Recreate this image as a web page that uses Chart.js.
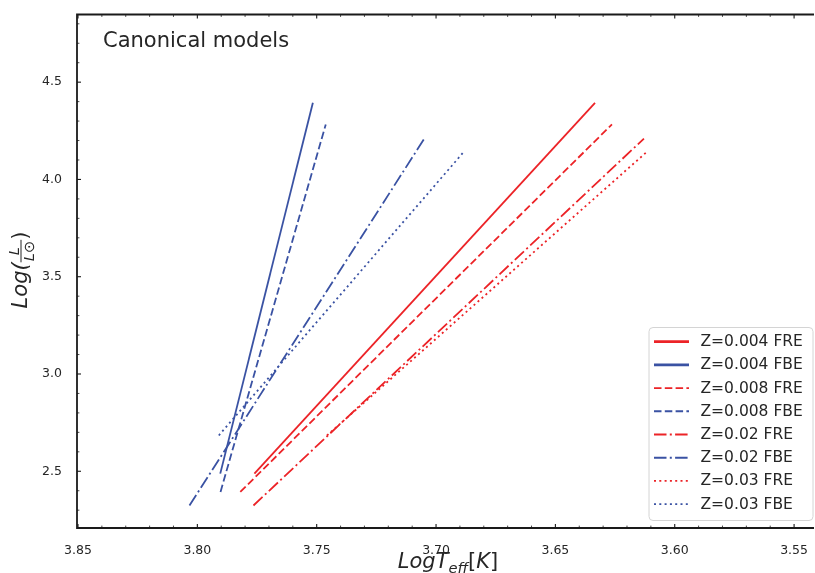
<!DOCTYPE html>
<html>
<head>
<meta charset="utf-8">
<script src="https://cdn.jsdelivr.net/npm/chart.js@4.4.1/dist/chart.umd.min.js"></script>
<style>
  html, body { margin: 0; padding: 0; background: #fff; overflow: hidden; }
  #wrap { width: 815px; height: 573px; }
</style>
</head>
<body>
<div id="wrap"><canvas id="hr" width="815" height="573"></canvas></div>
<script>
// Track endpoints: log L is shared by the FRE/FBE pair of each Z.
var lumZ004 = [2.488, 4.394];
var lumZ008 = [2.394, 4.283];
var lumZ02 = [2.324, 4.210];
var lumZ03 = [2.684, 4.147];

var teffZ004FRE = [3.7761, 3.6334];
var teffZ004FBE = [3.7904, 3.7516];
var teffZ008FRE = [3.7820, 3.6263];
var teffZ008FBE = [3.7903, 3.7462];
var teffZ02FRE = [3.7765, 3.6129];
var teffZ02FBE = [3.8033, 3.7049];
var teffZ03FRE = [3.7457, 3.6112];
var teffZ03FBE = [3.7910, 3.6880];

var seriesLabels = ['Z=0.004 FRE', 'Z=0.004 FBE', 'Z=0.008 FRE', 'Z=0.008 FBE',
                    'Z=0.02 FRE', 'Z=0.02 FBE', 'Z=0.03 FRE', 'Z=0.03 FBE'];

var xTicks = [3.85, 3.80, 3.75, 3.70, 3.65, 3.60, 3.55];
var yTicks = [2.5, 3.0, 3.5, 4.0, 4.5];

var RED = '#ec2327', BLUE = '#3a52a3', INK = '#262626';
var FONT = '"DejaVu Sans", "Liberation Sans", sans-serif';

// matplotlib-ish dash patterns in px
var DASH = { solid: [], dashed: [7.5, 3.3], dashdot: [12.5, 3.3, 2, 3.3], dotted: [2, 3.3] };

function pts(teff, lum) {
    return teff.map(function (t, i) { return { x: t, y: lum[i] }; });
}

var tracks = [
    { t: teffZ004FRE, l: lumZ004, c: RED, d: 'solid' },
    { t: teffZ004FBE, l: lumZ004, c: BLUE, d: 'solid' },
    { t: teffZ008FRE, l: lumZ008, c: RED, d: 'dashed' },
    { t: teffZ008FBE, l: lumZ008, c: BLUE, d: 'dashed' },
    { t: teffZ02FRE, l: lumZ02, c: RED, d: 'dashdot' },
    { t: teffZ02FBE, l: lumZ02, c: BLUE, d: 'dashdot' },
    { t: teffZ03FRE, l: lumZ03, c: RED, d: 'dotted' },
    { t: teffZ03FBE, l: lumZ03, c: BLUE, d: 'dotted' }
];

var datasets = tracks.map(function (s, i) {
    return {
        label: seriesLabels[i], data: pts(s.t, s.l), showLine: true,
        borderColor: s.c, backgroundColor: s.c, borderWidth: 1.8,
        borderDash: DASH[s.d], pointRadius: 0, fill: false, tension: 0
    };
});

// axes box (the right spine falls outside the crop), inward ticks, titles, annotation and legend
var decor = {
    id: 'decor',
    afterDatasetsDraw: function (chart) {
        var ctx = chart.ctx, a = chart.chartArea, xs = chart.scales.x, ys = chart.scales.y;
        ctx.save();
        ctx.strokeStyle = '#1a1a1a';

        var v, px, major, len;
        for (var k = 355; k <= 385; k++) {
            v = k / 100; px = xs.getPixelForValue(v);
            if (px < a.left - 0.5 || px > a.right + 0.5) continue;
            major = k % 5 === 0;
            ctx.lineWidth = major ? 1.1 : 0.8;
            len = major ? 4 : 2.4;
            ctx.beginPath();
            ctx.moveTo(px, a.bottom); ctx.lineTo(px, a.bottom - len);
            ctx.moveTo(px, a.top); ctx.lineTo(px, a.top + len);
            ctx.stroke();
        }
        for (var j = 22; j <= 48; j++) {
            v = j / 10; px = ys.getPixelForValue(v);
            if (px < a.top - 0.5 || px > a.bottom + 0.5) continue;
            major = j % 5 === 0;
            ctx.lineWidth = major ? 1.1 : 0.8;
            ctx.beginPath();
            ctx.moveTo(a.left, px); ctx.lineTo(a.left + (major ? 4 : 2.4), px);
            ctx.stroke();
        }

        ctx.lineWidth = 1.8;
        ctx.beginPath();
        ctx.moveTo(a.right + 2, a.top); ctx.lineTo(a.left, a.top);
        ctx.lineTo(a.left, a.bottom); ctx.lineTo(a.right + 2, a.bottom);
        ctx.stroke();

        ctx.fillStyle = INK;
        ctx.textBaseline = 'alphabetic';
        ctx.textAlign = 'left';

        ctx.font = '21px ' + FONT;
        ctx.fillText('Canonical models', 103, 47);

        // x title: LogT_eff[K]
        var big = 21, small = 14.7;
        var parts = [
            { s: 'LogT', f: 'italic ' + big + 'px ' + FONT, dy: 0 },
            { s: 'eff', f: 'italic ' + small + 'px ' + FONT, dy: 4.5 },
            { s: '[', f: big + 'px ' + FONT, dy: 0 },
            { s: 'K', f: 'italic ' + big + 'px ' + FONT, dy: 0 },
            { s: ']', f: big + 'px ' + FONT, dy: 0 }
        ];
        var total = 0;
        parts.forEach(function (p) { ctx.font = p.f; p.w = ctx.measureText(p.s).width; total += p.w; });
        var cx = 448 - total / 2;
        parts.forEach(function (p) { ctx.font = p.f; ctx.fillText(p.s, cx, 568 + p.dy); cx += p.w; });

        // y title: Log(L / L_sun), rotated
        ctx.save();
        ctx.translate(27, 270);
        ctx.rotate(-Math.PI / 2);
        ctx.font = 'italic ' + big + 'px ' + FONT;
        var w1 = ctx.measureText('Log(').width;
        ctx.font = 'italic ' + small + 'px ' + FONT;
        var wn = ctx.measureText('L').width;
        var wdL = wn;
        ctx.font = small + 'px ' + FONT;
        var wdS = ctx.measureText('\u2299').width;
        var wf = Math.max(wn, wdL + wdS) + 2;
        ctx.font = big + 'px ' + FONT;
        var w3 = ctx.measureText(')').width;
        var x0 = -(w1 + wf + w3) / 2;
        ctx.font = 'italic ' + big + 'px ' + FONT;
        ctx.fillText('Log(', x0, 0);
        var fx = x0 + w1, bar = -6;
        ctx.fillRect(fx, bar - 0.5, wf, 1);
        ctx.font = 'italic ' + small + 'px ' + FONT;
        ctx.fillText('L', fx + (wf - wn) / 2, bar - 2.5);
        var dx = fx + (wf - wdL - wdS) / 2;
        ctx.fillText('L', dx, bar + 13);
        ctx.font = small + 'px ' + FONT;
        ctx.fillText('\u2299', dx + wdL, bar + 13);
        ctx.font = big + 'px ' + FONT;
        ctx.fillText(')', fx + wf, 0);
        ctx.restore();

        // legend
        var lx = 649, ly = 327.5, lw = 164, lh = 193;
        ctx.beginPath();
        ctx.roundRect(lx, ly, lw, lh, 4);
        ctx.fillStyle = 'rgba(255,255,255,0.85)';
        ctx.fill();
        ctx.strokeStyle = '#d4d4d4';
        ctx.lineWidth = 1;
        ctx.stroke();
        ctx.font = '15.5px ' + FONT;
        ctx.textBaseline = 'middle';
        chart.data.datasets.forEach(function (ds, i) {
            var ry = 341.7 + i * 23.2;
            ctx.save();
            ctx.strokeStyle = ds.borderColor;
            ctx.lineWidth = i < 2 ? 2.8 : 1.9;
            ctx.setLineDash(ds.borderDash || []);
            ctx.beginPath();
            ctx.moveTo(654, ry); ctx.lineTo(689, ry);
            ctx.stroke();
            ctx.restore();
            ctx.fillStyle = INK;
            ctx.fillText(ds.label, 700.5, ry + 0.5);
        });
        ctx.restore();
    }
};

new Chart(document.getElementById('hr'), {
    type: 'scatter',
    data: { datasets: datasets },
    options: {
        responsive: false, animation: false, devicePixelRatio: 1,
        layout: { padding: { top: 12, right: 0, left: 0, bottom: 0 } },
        plugins: { legend: { display: false }, tooltip: { enabled: false } },
        scales: {
            x: {
                type: 'linear', reverse: true, min: 3.54249, max: 3.85042,
                grid: { display: false }, border: { display: false },
                afterBuildTicks: function (s) { s.ticks = xTicks.map(function (v) { return { value: v }; }); },
                afterFit: function (s) { s.height = 45; },
                ticks: {
                    autoSkip: false, maxRotation: 0, padding: 7, color: INK,
                    font: { family: FONT, size: 12.5 },
                    callback: function (v) { return Number(v).toFixed(2); }
                }
            },
            y: {
                type: 'linear', min: 2.2084, max: 4.8478,
                grid: { display: false }, border: { display: false },
                afterBuildTicks: function (s) { s.ticks = yTicks.map(function (v) { return { value: v }; }); },
                afterFit: function (s) { s.width = 77; },
                ticks: {
                    autoSkip: false, padding: 7, color: INK,
                    font: { family: FONT, size: 12.5 },
                    callback: function (v) { return Number(v).toFixed(1); }
                }
            }
        }
    },
    plugins: [decor]
});
</script>
</body>
</html>
